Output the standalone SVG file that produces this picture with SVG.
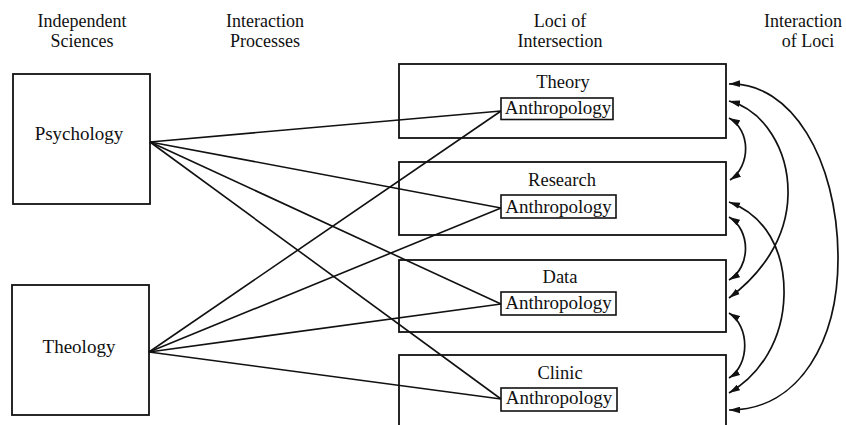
<svg xmlns="http://www.w3.org/2000/svg" width="846" height="425" viewBox="0 0 846 425">
<defs>
<style>
text{font-family:"Liberation Serif","Times New Roman",serif;fill:#111;}
.hd{font-size:18px;text-anchor:middle;}
.nm{font-size:19px;text-anchor:middle;}
.lc{font-size:18.5px;text-anchor:middle;}
.an{font-size:19px;text-anchor:middle;}
.box{fill:none;stroke:#111;stroke-width:1.8;}
.ibox{fill:#fff;stroke:#111;stroke-width:1.6;}
.ln{fill:none;stroke:#111;stroke-width:1.6;}
.arc{fill:none;stroke:#111;stroke-width:1.7;marker-start:url(#ah);marker-end:url(#ah);}
</style>
<marker id="ah" viewBox="0 0 10 6" refX="10" refY="3" markerWidth="11" markerHeight="7" markerUnits="userSpaceOnUse" orient="auto-start-reverse">
<path d="M0,0 L10,3 L0,6 z" fill="#111"/>
</marker>
</defs>
<rect width="846" height="425" fill="#fff"/>
<g id="headers">
<text class="hd" x="82" y="27">Independent</text>
<text class="hd" x="82" y="47">Sciences</text>
<text class="hd" x="265" y="27">Interaction</text>
<text class="hd" x="265" y="47">Processes</text>
<text class="hd" x="560" y="27">Loci of</text>
<text class="hd" x="560" y="47">Intersection</text>
<text class="hd" x="803" y="27">Interaction</text>
<text class="hd" x="808" y="47">of Loci</text>
</g>
<g id="psychology">
<rect class="box" x="13" y="74" width="137" height="130"/>
<text class="nm" x="79" y="140">Psychology</text>
</g>
<g id="theology">
<rect class="box" x="12" y="285" width="137" height="130"/>
<text class="nm" x="79" y="353">Theology</text>
</g>
<g id="theory">
<rect class="box" x="399" y="64" width="327" height="74"/>
<text class="lc" x="563" y="88">Theory</text>
</g>
<g id="research">
<rect class="box" x="399" y="162" width="327" height="73"/>
<text class="lc" x="562" y="186">Research</text>
</g>
<g id="data">
<rect class="box" x="399" y="260" width="327" height="72"/>
<text class="lc" x="560" y="283">Data</text>
</g>
<g id="clinic">
<rect class="box" x="399" y="355" width="327" height="90"/>
<text class="lc" x="560" y="379">Clinic</text>
</g>
<g id="connectors">
<line class="ln" x1="150" y1="142" x2="501" y2="111"/>
<line class="ln" x1="150" y1="142" x2="501" y2="208"/>
<line class="ln" x1="150" y1="142" x2="501" y2="304"/>
<line class="ln" x1="150" y1="142" x2="501" y2="399"/>
<line class="ln" x1="149" y1="352" x2="501" y2="111"/>
<line class="ln" x1="149" y1="352" x2="501" y2="208"/>
<line class="ln" x1="149" y1="352" x2="501" y2="304"/>
<line class="ln" x1="149" y1="352" x2="501" y2="399"/>
<path class="arc" d="M729,84 C792,82 837,160 838,255 C839,340 800,410 729,410"/>
<path class="arc" d="M729,101 C764,110 789,150 788,195 C787,240 760,275 729,298"/>
<path class="arc" d="M729,118 C751,130 751,166 730,180"/>
<path class="arc" d="M729,202 C765,215 785,250 784,295 C783,340 760,375 729,393"/>
<path class="arc" d="M729,217 C751,230 751,267 729,280"/>
<path class="arc" d="M729,313 C750,326 750,365 729,378"/>
</g>
<g id="anthro-theory">
<rect class="ibox" x="501" y="98" width="112" height="21.5"/>
<text class="an" x="558" y="114">Anthropology</text>
</g>
<g id="anthro-research">
<rect class="ibox" x="501" y="195" width="115" height="23"/>
<text class="an" x="558.5" y="212.5">Anthropology</text>
</g>
<g id="anthro-data">
<rect class="ibox" x="501" y="292" width="115" height="23"/>
<text class="an" x="558.5" y="309">Anthropology</text>
</g>
<g id="anthro-clinic">
<rect class="ibox" x="501" y="388" width="116" height="23"/>
<text class="an" x="559" y="404">Anthropology</text>
</g>
</svg>
